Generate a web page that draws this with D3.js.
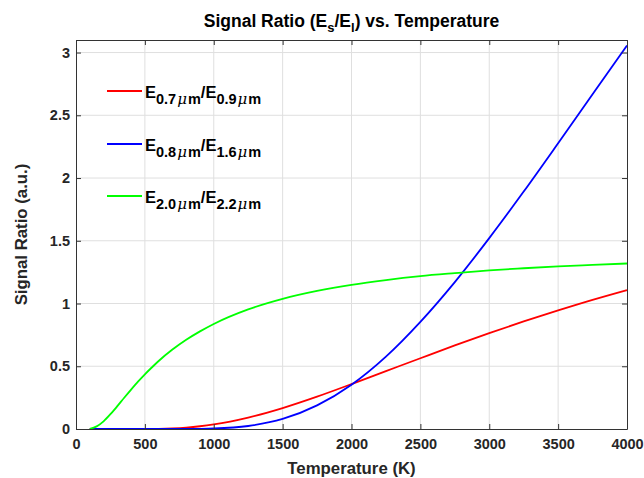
<!DOCTYPE html>
<html>
<head>
<meta charset="utf-8">
<script src="https://cdn.jsdelivr.net/npm/d3@7"></script>
<style>
  body { margin: 0; background: #fff; }
  svg { display: block; font-family: "Liberation Sans", Arial, Helvetica, sans-serif; }
  .tick text { font-size: 14.5px; font-weight: bold; fill: #262626; }
</style>
</head>
<body>
<div id="chart"></div>
<script>
// temperature samples (K)
const temps = [100, 150, 200, 250, 300, 350, 400, 450, 500, 550, 600, 700, 800, 900, 1000,
	1250, 1500, 1750, 2000, 2250, 2500, 2750, 3000, 3250, 3500, 3750, 4000];

// E 0.7um / E 0.9um
const ratioRed = [0, 0, 0, 0, 0, 0, 0, 0, 0.0004, 0.0009, 0.0017, 0.0052, 0.0116, 0.022, 0.0365,
	0.091, 0.167, 0.258, 0.358, 0.461, 0.564, 0.666, 0.764, 0.857, 0.945, 1.029, 1.107];

// E 0.8um / E 1.6um
const ratioBlue = [0, 0, 0, 0, 0, 0, 0, 0, 0, 0, 0, 0.0001, 0.0004, 0.0015, 0.004,
	0.024, 0.080, 0.188, 0.353, 0.577, 0.854, 1.171, 1.521, 1.892, 2.277, 2.667, 3.056];

// E 2.0um / E 2.2um
const ratioGreen = [0.002, 0.021, 0.061, 0.118, 0.182, 0.249, 0.314, 0.377, 0.436, 0.490, 0.542, 0.633, 0.711, 0.778, 0.837,
	0.953, 1.037, 1.100, 1.149, 1.187, 1.218, 1.242, 1.264, 1.281, 1.296, 1.308, 1.319];

const xTicks = [0, 500, 1000, 1500, 2000, 2500, 3000, 3500, 4000];
const yTicks = [0, 0.5, 1, 1.5, 2, 2.5, 3];

const series = [
	{ name: ['0.7', '0.9'], color: '#ff0000', values: ratioRed },
	{ name: ['0.8', '1.6'], color: '#0000ff', values: ratioBlue },
	{ name: ['2.0', '2.2'], color: '#00ff00', values: ratioGreen }
];

const width = 644, height = 478;
const margin = { top: 40, right: 17, bottom: 49, left: 76 };

const x = d3.scaleLinear().domain([0, 4000]).range([margin.left, width - margin.right]);
const y = d3.scaleLinear().domain([0, 3.1]).range([height - margin.bottom, margin.top]);

const svg = d3.select('#chart').append('svg')
	.attr('width', width)
	.attr('height', height);

// grid
const grid = svg.append('g').attr('stroke', '#dfdfdf').attr('stroke-width', 1);
grid.selectAll('.gx').data(xTicks.slice(1, -1)).enter().append('line')
	.attr('x1', (d) => x(d)).attr('x2', (d) => x(d))
	.attr('y1', y.range()[0]).attr('y2', y.range()[1]);
grid.selectAll('.gy').data(yTicks.slice(1)).enter().append('line')
	.attr('x1', x.range()[0]).attr('x2', x.range()[1])
	.attr('y1', (d) => y(d)).attr('y2', (d) => y(d));

// curves
const line = d3.line()
	.x((d, i) => x(temps[i]))
	.y((d) => y(d))
	.curve(d3.curveMonotoneX);

svg.append('g').selectAll('path').data(series).enter().append('path')
	.attr('fill', 'none')
	.attr('stroke', (d) => d.color)
	.attr('stroke-width', 1.8)
	.attr('d', (d) => line(d.values));

// axes (box with inward ticks on all four sides)
const axisColor = '#333';
const $bottom = svg.append('g').attr('transform', `translate(0,${y.range()[0]})`)
	.call(d3.axisBottom(x).tickValues(xTicks).tickFormat(d3.format('d')).tickSizeInner(-5).tickSizeOuter(0).tickPadding(10));
const $left = svg.append('g').attr('transform', `translate(${x.range()[0]},0)`)
	.call(d3.axisLeft(y).tickValues(yTicks).tickFormat(d3.format('')).tickSizeInner(-5).tickSizeOuter(0).tickPadding(6));
const $top = svg.append('g').attr('transform', `translate(0,${y.range()[1]})`)
	.call(d3.axisTop(x).tickValues(xTicks).tickSizeInner(-5).tickSizeOuter(0).tickFormat(''));
const $right = svg.append('g').attr('transform', `translate(${x.range()[1]},0)`)
	.call(d3.axisRight(y).tickValues(yTicks).tickSizeInner(-5).tickSizeOuter(0).tickFormat(''));

[$bottom, $left, $top, $right].forEach(($a) => {
	$a.selectAll('path, line').attr('stroke', axisColor);
	$a.select('.domain').attr('stroke-width', 1);
	$a.attr('font-family', null).attr('font-size', null);
});

// title
const title = svg.append('text')
	.attr('x', (x.range()[0] + x.range()[1]) / 2)
	.attr('y', 27)
	.attr('text-anchor', 'middle')
	.attr('font-size', 17.5)
	.attr('font-weight', 'bold')
	.attr('fill', '#000');
title.append('tspan').text('Signal Ratio (E');
title.append('tspan').attr('dy', 5).attr('font-size', 13).text('s');
title.append('tspan').attr('dy', -5).text('/E');
title.append('tspan').attr('dy', 5).attr('font-size', 13).text('l');
title.append('tspan').attr('dy', -5).text(') vs. Temperature');

// axis labels
svg.append('text')
	.attr('x', (x.range()[0] + x.range()[1]) / 2)
	.attr('y', 474)
	.attr('text-anchor', 'middle')
	.attr('font-size', 16.8)
	.attr('font-weight', 'bold')
	.attr('fill', '#262626')
	.text('Temperature (K)');

svg.append('text')
	.attr('transform', `translate(27,${(y.range()[0] + y.range()[1]) / 2}) rotate(-90)`)
	.attr('text-anchor', 'middle')
	.attr('font-size', 16.8)
	.attr('font-weight', 'bold')
	.attr('fill', '#262626')
	.text('Signal Ratio (a.u.)');

// legend
const legend = svg.append('g');
const legendY = [91, 144, 196];
series.forEach((s, i) => {
	const ly = legendY[i];
	legend.append('line')
		.attr('x1', 107).attr('x2', 142)
		.attr('y1', ly).attr('y2', ly)
		.attr('stroke', s.color).attr('stroke-width', 1.8);
	const t = legend.append('text')
		.attr('x', 145).attr('y', ly + 7)
		.attr('font-size', 16.5)
		.attr('font-weight', 'bold')
		.attr('fill', '#000');
	s.name.forEach((sub, j) => {
		t.append('tspan').attr('dy', j === 0 ? 0 : -6).text(j === 0 ? 'E' : '/E');
		t.append('tspan').attr('dy', 6).attr('font-size', 14.5).text(sub);
		t.append('tspan').attr('dx', 1).attr('font-size', 15).attr('font-style', 'italic').attr('font-weight', 'normal')
			.attr('font-family', '"DejaVu Serif", serif').text('\u03bc');
		t.append('tspan').attr('dx', 1).attr('font-size', 14.5).text('m');
	});
});
</script>
</body>
</html>
